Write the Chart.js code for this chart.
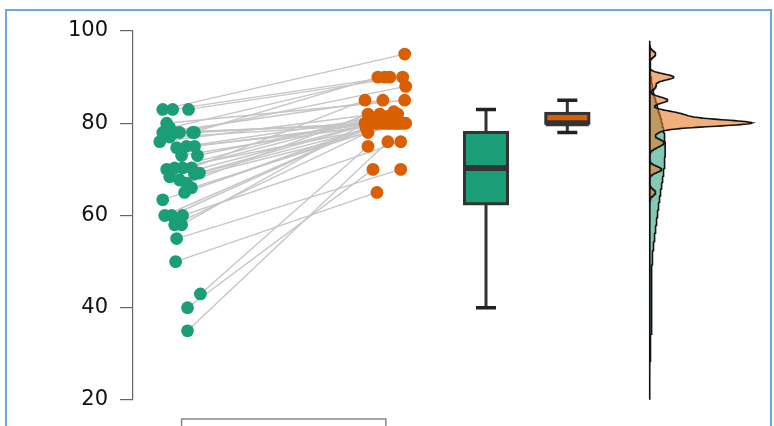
<!DOCTYPE html>
<html>
<head>
<meta charset="utf-8">
<script src="https://cdn.jsdelivr.net/npm/chart.js@4.4.1/dist/chart.umd.min.js"></script>
<style>
    html, body { margin: 0; padding: 0; background: #fff; }
    #contenedor { position: relative; width: 774px; height: 426px; overflow: hidden; }
    #marco {
        position: absolute; left: 5px; top: 9px; width: 767px; height: 440px;
        border: 2px solid #6fa8dc; box-sizing: border-box; pointer-events: none;
    }
</style>
</head>
<body>
<div id="contenedor">
    <canvas id="grafico" width="774" height="426"></canvas>
    <div id="marco"></div>
</div>
<script>
// Puntajes emparejados por indice: pre (verde) -> post (naranja)
const puntajePre = [35, 40, 43, 50, 55, 58, 58, 60, 60, 60, 63.4, 65, 66, 67, 67.7, 68.4, 69, 69.2, 70, 70.3,
    70.3, 70.3, 73, 73, 74.7, 75, 75, 76, 77, 78, 78, 78, 78, 78, 78, 79, 80, 83, 83, 83];
const puntajePost = [76, 70, 75, 65, 70, 78, 80, 79, 80, 76, 80, 81, 80, 82, 80, 80, 80.5, 80, 82, 80,
    81, 85, 80, 82, 80, 81.5, 80, 82.5, 80, 85, 80, 88, 90, 80, 80, 90, 85, 95, 90, 90];
const ticksY = [20, 40, 60, 80, 100];

// desplazamiento horizontal de cada punto (jitter)
const jitterPre = [6, 6, 19, -6, -5, -7, 0, -17, -10, 1, -19, 3, 10, 5, -2, -12, 13, 18, -15, -7,
    1, 10, 0, 16, -5, 5, 13, -22, -12, -19, -10, -2, 11, 13, -7, -12, -15, -19, -9, 7];
const jitterPost = [2, -13, -18, -9, 15, -18, -21, -20, -10, 15, 0, 6, 10, -18, 20, -15, -5, 5, -6, 14,
    -12, -21, -3, 12, 17, 2, -8, 8, 8, -3, 3, 20, -8, -17, 12, -1, 19, 19, 4, 17];

const VERDE = "#1b9e77";
const NARANJA = "#d95f02";

// posiciones de cada grupo en el eje x (oculto)
const posPre = 49, posPost = 255, posCajaPre = 356, posCajaPost = 438, posDensidad = 521;
const anchoDensidad = 103;

function cuantil(ordenados, p) {
    const h = (ordenados.length - 1) * p;
    const lo = Math.floor(h);
    const hi = Math.min(lo + 1, ordenados.length - 1);
    return ordenados[lo] + (h - lo) * (ordenados[hi] - ordenados[lo]);
}

function anchoBanda(valores) {
    const n = valores.length;
    const media = valores.reduce((a, b) => a + b, 0) / n;
    const sd = Math.sqrt(valores.reduce((a, v) => a + (v - media) ** 2, 0) / (n - 1));
    const s = [...valores].sort((a, b) => a - b);
    const iqr = cuantil(s, 0.75) - cuantil(s, 0.25);
    return 0.9 * Math.min(sd, iqr / 1.34) * Math.pow(n, -0.2);
}

function densidad(valores) {
    const h = anchoBanda(valores);
    const desde = Math.min(...valores) - 3 * h;
    const hasta = Math.max(...valores) + 3 * h;
    const pts = [];
    for (let i = 0; i < 512; i++) {
        const y = desde + (hasta - desde) * i / 511;
        let d = 0;
        valores.forEach((v) => {
            const z = (y - v) / h;
            d += Math.exp(-0.5 * z * z);
        });
        pts.push({ y: y, d: d / (valores.length * h * Math.sqrt(2 * Math.PI)) });
    }
    return pts;
}

const densPre = densidad(puntajePre);
const densPost = densidad(puntajePost);
const escalaDens = anchoDensidad / Math.max(...densPost.map((p) => p.d));

function poligonoDensidad(dens) {
    const datos = [{ x: posDensidad, y: dens[0].y }];
    dens.forEach((p) => datos.push({ x: posDensidad + p.d * escalaDens, y: p.y }));
    datos.push({ x: posDensidad, y: dens[dens.length - 1].y });
    datos.push({ x: posDensidad, y: dens[0].y });
    return datos;
}

const datasets = [];

// lineas que unen cada par
puntajePre.forEach((v, i) => {
    datasets.push({
        data: [
            { x: posPre + jitterPre[i], y: v },
            { x: posPost + jitterPost[i], y: puntajePost[i] },
        ],
        showLine: true,
        borderColor: "#c6c6c6",
        borderWidth: 1.4,
        pointRadius: 0,
        order: 20,
    });
});

datasets.push({
    data: poligonoDensidad(densPre),
    showLine: true,
    borderColor: "#111",
    borderWidth: 1.6,
    pointRadius: 0,
    relleno: "rgba(27, 158, 119, 0.55)",
    order: 11,
});
datasets.push({
    data: poligonoDensidad(densPost),
    showLine: true,
    borderColor: "#111",
    borderWidth: 1.6,
    pointRadius: 0,
    relleno: "rgba(232, 122, 40, 0.6)",
    order: 10,
});

datasets.push({
    data: puntajePre.map((v, i) => ({ x: posPre + jitterPre[i], y: v })),
    backgroundColor: VERDE,
    borderWidth: 0,
    pointRadius: 6.4,
    order: 1,
});
datasets.push({
    data: puntajePost.map((v, i) => ({ x: posPost + jitterPost[i], y: v })),
    backgroundColor: NARANJA,
    borderWidth: 0,
    pointRadius: 6.4,
    order: 0,
});

// relleno de las densidades, con las posiciones que calcula Chart.js
const pluginRelleno = {
    id: "relleno",
    beforeDatasetDraw(chart, args) {
        const ds = chart.data.datasets[args.index];
        if (!ds.relleno) return;
        const pts = args.meta.data;
        const ctx = chart.ctx;
        ctx.save();
        ctx.beginPath();
        pts.forEach((p, i) => (i === 0 ? ctx.moveTo(p.x, p.y) : ctx.lineTo(p.x, p.y)));
        ctx.closePath();
        ctx.fillStyle = ds.relleno;
        ctx.fill();
        ctx.restore();
    },
};

function dibujarCaja(chart, centro, valores, color) {
    const ctx = chart.ctx;
    const xs = chart.scales.x;
    const ys = chart.scales.y;
    const s = [...valores].sort((a, b) => a - b);
    const q1 = cuantil(s, 0.25), med = cuantil(s, 0.5), q3 = cuantil(s, 0.75);
    const iqr = q3 - q1;
    const minB = s.find((v) => v >= q1 - 1.5 * iqr);
    const maxB = [...s].reverse().find((v) => v <= q3 + 1.5 * iqr);
    const cx = xs.getPixelForValue(centro);
    const mitad = 21.5, tapa = 10;

    ctx.save();
    ctx.strokeStyle = "#333";
    ctx.lineWidth = 3;
    ctx.beginPath();
    ctx.moveTo(cx, ys.getPixelForValue(maxB));
    ctx.lineTo(cx, ys.getPixelForValue(q3));
    ctx.moveTo(cx, ys.getPixelForValue(q1));
    ctx.lineTo(cx, ys.getPixelForValue(minB));
    ctx.stroke();

    ctx.strokeStyle = "#222";
    ctx.lineWidth = 3.5;
    ctx.beginPath();
    ctx.moveTo(cx - tapa, ys.getPixelForValue(maxB));
    ctx.lineTo(cx + tapa, ys.getPixelForValue(maxB));
    ctx.moveTo(cx - tapa, ys.getPixelForValue(minB));
    ctx.lineTo(cx + tapa, ys.getPixelForValue(minB));
    ctx.stroke();

    const yTop = ys.getPixelForValue(q3);
    const yBot = ys.getPixelForValue(q1);
    ctx.fillStyle = color;
    ctx.fillRect(cx - mitad, yTop, mitad * 2, yBot - yTop);
    ctx.strokeStyle = "#333";
    ctx.lineWidth = 3;
    ctx.strokeRect(cx - mitad, yTop, mitad * 2, yBot - yTop);

    ctx.lineWidth = 6;
    ctx.beginPath();
    ctx.moveTo(cx - mitad, ys.getPixelForValue(med));
    ctx.lineTo(cx + mitad, ys.getPixelForValue(med));
    ctx.stroke();
    ctx.restore();
}

const pluginCajas = {
    id: "cajas",
    afterDatasetsDraw(chart) {
        dibujarCaja(chart, posCajaPre, puntajePre, VERDE);
        dibujarCaja(chart, posCajaPost, puntajePost, NARANJA);
    },
    afterDraw(chart) {
        // eje inferior tipo corchete entre los dos grupos
        const ctx = chart.ctx;
        const xs = chart.scales.x;
        const y = chart.chartArea.bottom + 19;
        const x1 = xs.getPixelForValue(posPre);
        const x2 = xs.getPixelForValue(posPost);
        ctx.save();
        ctx.strokeStyle = "#888";
        ctx.lineWidth = 1.5;
        ctx.beginPath();
        ctx.moveTo(x1, y + 12);
        ctx.lineTo(x1, y);
        ctx.lineTo(x2, y);
        ctx.lineTo(x2, y + 12);
        ctx.stroke();
        ctx.restore();
    },
};

new Chart(document.getElementById("grafico"), {
    type: "scatter",
    data: { datasets: datasets },
    options: {
        responsive: false,
        animation: false,
        layout: { padding: { top: 31, bottom: 26, left: 0, right: 1 } },
        plugins: { legend: { display: false }, tooltip: { enabled: false } },
        scales: {
            x: { type: "linear", min: 0, max: 640, display: false },
            y: {
                min: 20,
                max: 100,
                afterBuildTicks: (scale) => {
                    scale.ticks = ticksY.map((v) => ({ value: v }));
                },
                afterFit: (scale) => {
                    scale.width = 133;
                },
                ticks: {
                    color: "#111",
                    padding: 12,
                    font: { family: "DejaVu Sans", size: 21 },
                },
                grid: { drawOnChartArea: false, drawTicks: true, tickLength: 13, color: "#666", lineWidth: 1.2 },
                border: { display: true, color: "#666", width: 1.2 },
            },
        },
    },
    plugins: [pluginRelleno, pluginCajas],
});
</script>
</body>
</html>
